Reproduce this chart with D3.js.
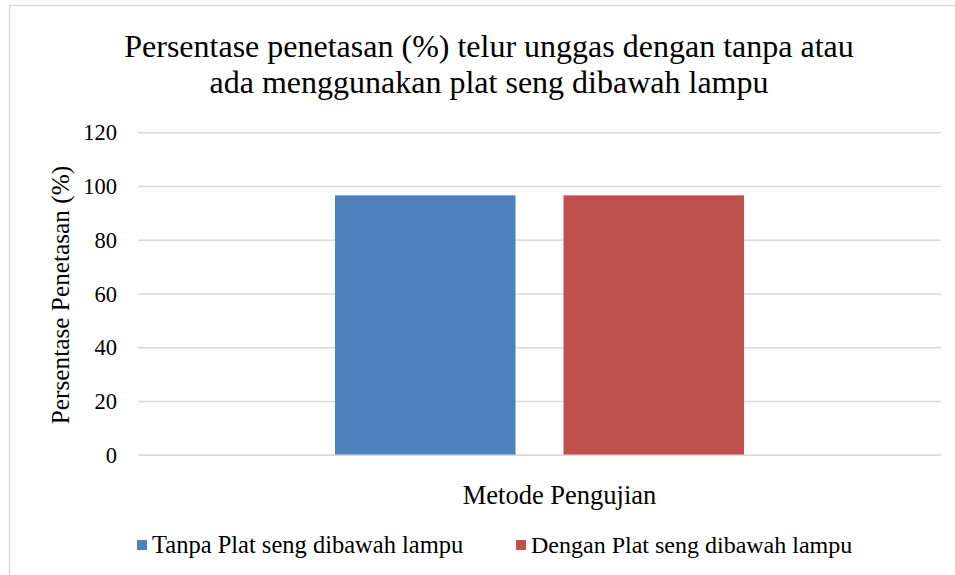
<!DOCTYPE html>
<html><head><meta charset="utf-8">
<script src="https://cdn.jsdelivr.net/npm/d3@7"></script>
</head><body style="margin:0"><svg id="c" width="955" height="575" font-family="Times New Roman" style="display:block;font-family:'Times New Roman'"></svg>
<script>
const categories = ["Metode Pengujian"];
const seriesNames = ["Tanpa Plat seng dibawah lampu", "Dengan Plat seng dibawah lampu"];
const seriesValues = [96.7, 96.7];
const seriesColors = ["#4F81BD", "#C0504D"];
const yTicks = [0, 20, 40, 60, 80, 100, 120];
const titleLines = ["Persentase penetasan (%) telur unggas dengan tanpa atau", "ada menggunakan plat seng dibawah lampu"];
const yLabel = "Persentase Penetasan (%)";

const svg = d3.select("#c");
svg.append("rect").attr("x", 9.5).attr("y", 5.5).attr("width", 960).attr("height", 600)
  .attr("fill", "#fff").attr("stroke", "#d9d9d9").attr("stroke-width", 1.5);

const L = 138, R = 941, T = 132.7, B = 455.3;
const y = d3.scaleLinear().domain([0, 120]).range([B, T]);
const x0 = d3.scaleBand().domain(categories).range([L, R]).paddingInner(0).paddingOuter(0);
const x1 = d3.scaleBand().domain(seriesNames).range([0, x0.bandwidth()]).paddingInner(0.21).paddingOuter(0.862);

const txt = (sel) => sel.append("text").attr("font-family", "Times New Roman").attr("fill", "#000");

svg.append("g").selectAll("line").data(yTicks).join("line")
  .attr("x1", L).attr("x2", R).attr("y1", d => y(d)).attr("y2", d => y(d))
  .attr("stroke", "#d9d9d9").attr("stroke-width", 1.5);

yTicks.forEach(d => {
  txt(svg).attr("x", 117).attr("y", y(d) + 7.5).attr("text-anchor", "end")
    .attr("font-size", 22.5).text(d);
});

categories.forEach(c => {
  svg.append("g").selectAll("rect").data(seriesNames.map((s, i) => ({s, v: seriesValues[i], col: seriesColors[i]}))).join("rect")
    .attr("x", d => x0(c) + x1(d.s)).attr("width", x1.bandwidth())
    .attr("y", d => y(d.v)).attr("height", d => y(0) - y(d.v))
    .attr("fill", d => d.col);
  txt(svg).attr("x", x0(c) + x0.bandwidth() / 2 + 20).attr("y", 504)
    .attr("text-anchor", "middle").attr("font-size", 26.5).text(c);
});
svg.append("line").attr("x1", L).attr("x2", R).attr("y1", y(0)).attr("y2", y(0))
  .attr("stroke", "#d9d9d9").attr("stroke-width", 1.5);

titleLines.forEach((t, i) => {
  txt(svg).attr("x", 489).attr("y", 57 + i * 35.5).attr("text-anchor", "middle")
    .attr("font-size", 32).text(t);
});

txt(svg).attr("transform", "translate(69,295) rotate(-90)").attr("text-anchor", "middle")
  .attr("font-size", 25.3).text(yLabel);

const legX = [137, 516];
const legF = [24.5, 24];
seriesNames.forEach((s, i) => {
  svg.append("rect").attr("x", legX[i]).attr("y", 540).attr("width", 10).attr("height", 10).attr("fill", seriesColors[i]);
  txt(svg).attr("x", legX[i] + 15).attr("y", 553).attr("font-size", legF[i]).text(s);
});
</script></body></html>
